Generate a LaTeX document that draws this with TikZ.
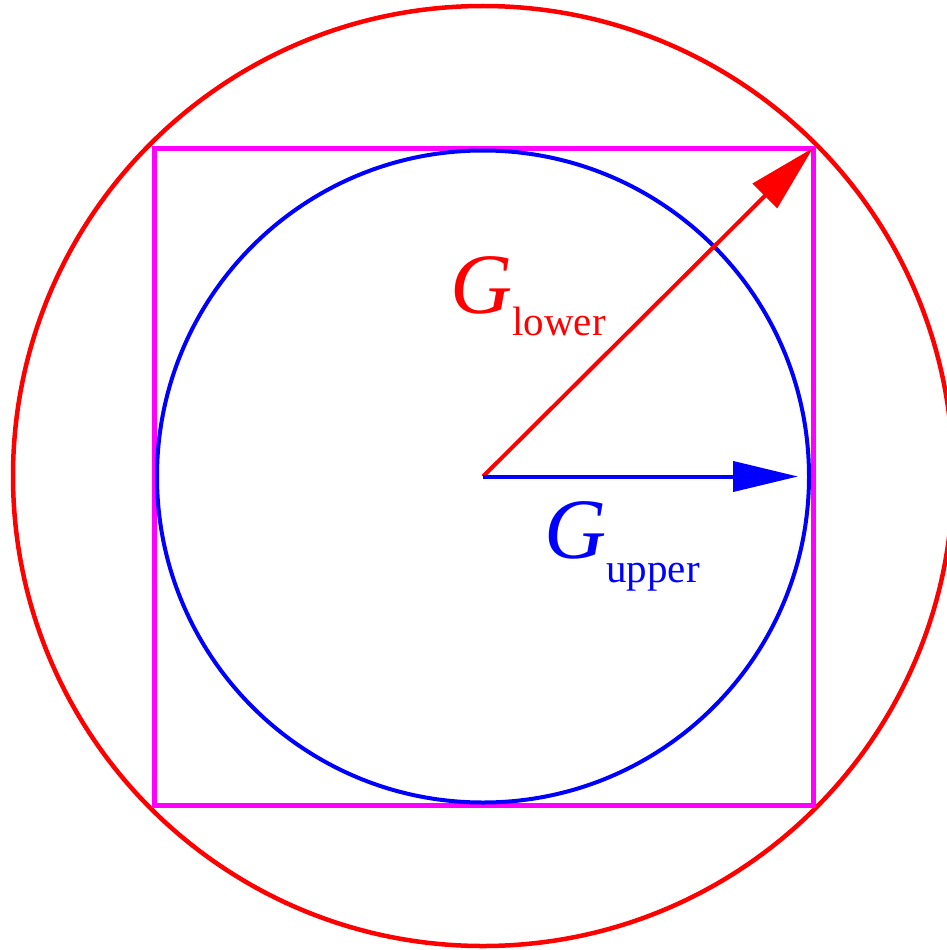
\documentclass[tikz,border=0pt]{standalone}
\usepackage{fontspec}
\setmainfont{Liberation Serif}
\usetikzlibrary{arrows.meta}
\definecolor{myred}{RGB}{255,0,0}
\definecolor{myblue}{RGB}{0,0,255}
\definecolor{mymag}{RGB}{255,0,255}
\newcommand{\bigG}{\fontsize{86}{86}\selectfont\itshape G}
\newcommand{\subtxt}[1]{{\fontsize{41}{41}\selectfont\upshape #1}}
\tikzset{
  outercirc/.style={draw=myred, line width=4.5pt},
  innercirc/.style={draw=myblue, line width=4pt},
  sq/.style={draw=mymag, line width=5pt},
  redarrow/.style={draw=myred, line width=4pt, -{Triangle[length=68pt,width=34pt]}},
  bluearrow/.style={draw=myblue, line width=4pt, -{Triangle[length=65pt,width=30pt]}},
  lbl/.style={anchor=base west, inner sep=0pt}
}
\begin{document}
\begin{tikzpicture}[x=1pt,y=-1pt]
\useasboundingbox (0,0) rectangle (947,950);
\clip (0,0) rectangle (947,950);
\coordinate (O) at (483,476.5);
\coordinate (TR) at (813,148);
\coordinate (BL) at (154,805);
\coordinate (R) at (798,476.5);
\draw[outercirc] (483,476) circle[radius=470];
\draw[sq] (BL) rectangle (TR);
\draw[innercirc] (O) circle[radius=326];
\draw[redarrow] (O) -- (TR);
\draw[bluearrow] (O) -- (R);
\node[lbl, text=myred] (gl) at (450,313) {\bigG\raisebox{-22pt}{\subtxt{lower}}};
\node[lbl, text=myblue] (gu) at (544,558) {\bigG\raisebox{-24pt}{\subtxt{upper}}};
\end{tikzpicture}
\end{document}
